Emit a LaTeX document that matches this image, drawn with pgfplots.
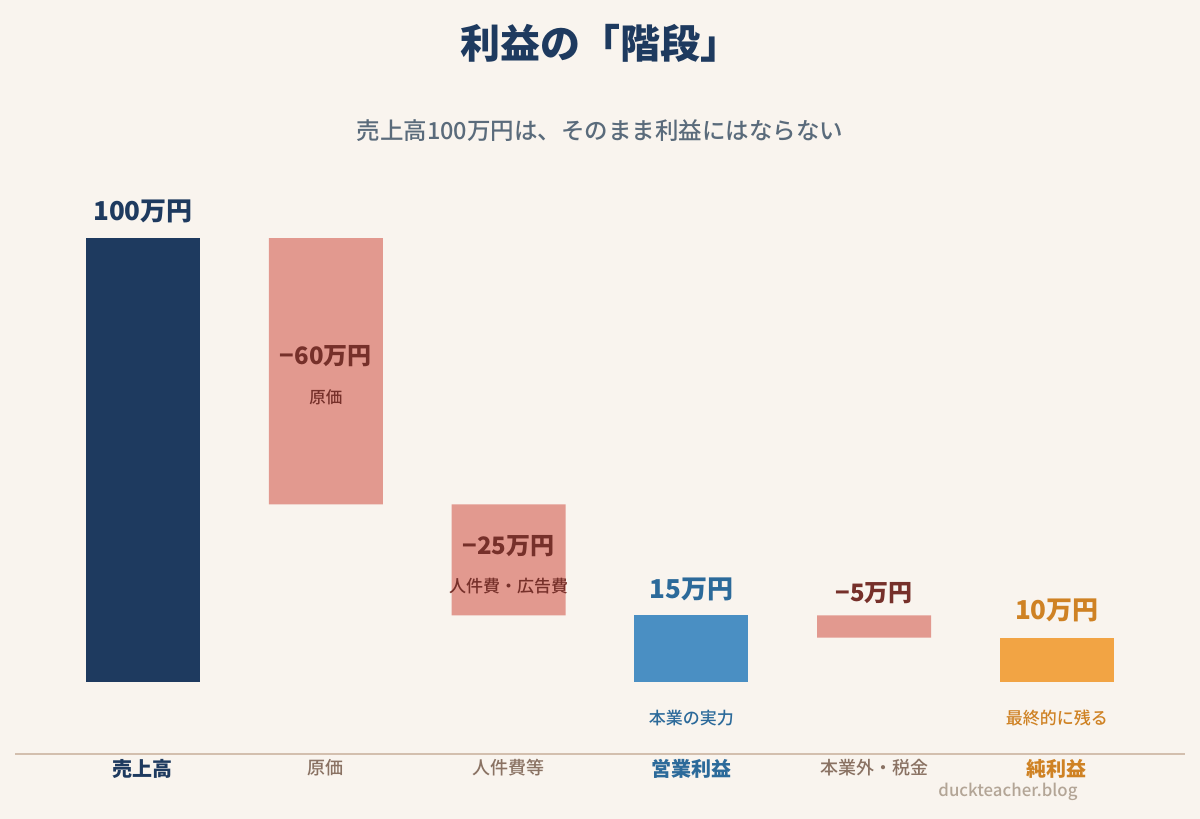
\documentclass[border=0pt]{standalone}
\usepackage{pgfplots}
\pgfplotsset{compat=1.18}
\usepackage{fontspec}
\setmainfont{Noto Sans CJK JP}
\newfontfamily\medium{Noto Sans CJK JP Medium}
\definecolor{bg}{HTML}{F9F4EE}
\definecolor{navy}{HTML}{1E3A5F}
\definecolor{salmon}{HTML}{E2998F}
\definecolor{darkred}{HTML}{76302A}
\definecolor{bluebar}{HTML}{4A8FC3}
\definecolor{bluetxt}{HTML}{2C6A9A}
\definecolor{orangebar}{HTML}{F2A444}
\definecolor{orangetxt}{HTML}{CF8224}
\definecolor{greytxt}{HTML}{8A7263}
\definecolor{subtxt}{HTML}{5A6B7B}
\definecolor{wmark}{HTML}{B3A596}
\definecolor{axline}{HTML}{D3BFAE}
\newcommand{\fs}[1]{\fontsize{#1}{#1}\selectfont}
\begin{document}
\begin{tikzpicture}
\fill[bg] (0pt,0pt) rectangle (1200pt,-819pt);
\node[text=navy, font=\fs{40}\bfseries] at (600pt,-43pt) {利益の「階段」};
\node[text=subtxt, font=\fs{23.5}\medium] at (600pt,-131pt) {売上高100万円は、そのまま利益にはならない};
\node[text=wmark, font=\fs{16.8}\medium, anchor=east] at (1081pt,-792pt) {duckteacher.blog};
\begin{axis}[
  at={(15pt,-754pt)}, anchor=south west,
  scale only axis, width=1170pt, height=516pt,
  xmin=-0.7, xmax=5.7, ymin=-16.2162, ymax=100,
  enlargelimits=false, clip=false,
  axis x line*=bottom, axis y line=none,
  x axis line style={draw=axline, line width=1.2pt},
  xtick={0,1,2,3,4,5}, major tick length=0pt,
  xticklabels={
    {\color{navy}\fs{20}\bfseries 売上高},
    {\color{greytxt}\fs{18}\medium 原価},
    {\color{greytxt}\fs{18}\medium 人件費等},
    {\color{bluetxt}\fs{20}\bfseries 営業利益},
    {\color{greytxt}\fs{18}\medium 本業外・税金},
    {\color{orangetxt}\fs{20}\bfseries 純利益}},
  xticklabel style={anchor=north, yshift=-2pt},
  ytick=\empty,
  ybar stacked, bar width=114pt,
]
\addplot[draw=none, fill=none] coordinates {(0,0) (1,40) (2,15) (3,0) (4,10) (5,0)};
\addplot[draw=none, fill=navy] coordinates {(0,100) (1,0) (2,0) (3,0) (4,0) (5,0)};
\addplot[draw=none, fill=salmon] coordinates {(0,0) (1,60) (2,25) (3,0) (4,5) (5,0)};
\addplot[draw=none, fill=bluebar] coordinates {(0,0) (1,0) (2,0) (3,15) (4,0) (5,0)};
\addplot[draw=none, fill=orangebar] coordinates {(0,0) (1,0) (2,0) (3,0) (4,0) (5,10)};
\coordinate (L0) at (axis cs:0,106.1);
\coordinate (L1) at (axis cs:1,73.4);
\coordinate (S1) at (axis cs:1,64.2);
\coordinate (L2) at (axis cs:2,30.6);
\coordinate (S2) at (axis cs:2,21.6);
\coordinate (L3) at (axis cs:3,20.9);
\coordinate (L4) at (axis cs:4,20.0);
\coordinate (L5) at (axis cs:5,16.2);
\coordinate (S3) at (axis cs:3,-8.1);
\coordinate (S5) at (axis cs:5,-8.1);
\end{axis}
\node[text=navy, font=\fs{26}\bfseries] at (L0) {100万円};
\node[text=darkred, font=\fs{24}\bfseries] at (L1) {−60万円};
\node[text=darkred, font=\fs{16.5}\medium] at (S1) {原価};
\node[text=darkred, font=\fs{24}\bfseries] at (L2) {−25万円};
\node[text=darkred, font=\fs{17}\medium] at (S2) {人件費・広告費};
\node[text=bluetxt, font=\fs{26}\bfseries] at (L3) {15万円};
\node[text=darkred, font=\fs{24}\bfseries] at (L4) {−5万円};
\node[text=orangetxt, font=\fs{26}\bfseries] at (L5) {10万円};
\node[text=bluetxt, font=\fs{17}\medium] at (S3) {本業の実力};
\node[text=orangetxt, font=\fs{17}\medium] at (S5) {最終的に残る};
\end{tikzpicture}
\end{document}
